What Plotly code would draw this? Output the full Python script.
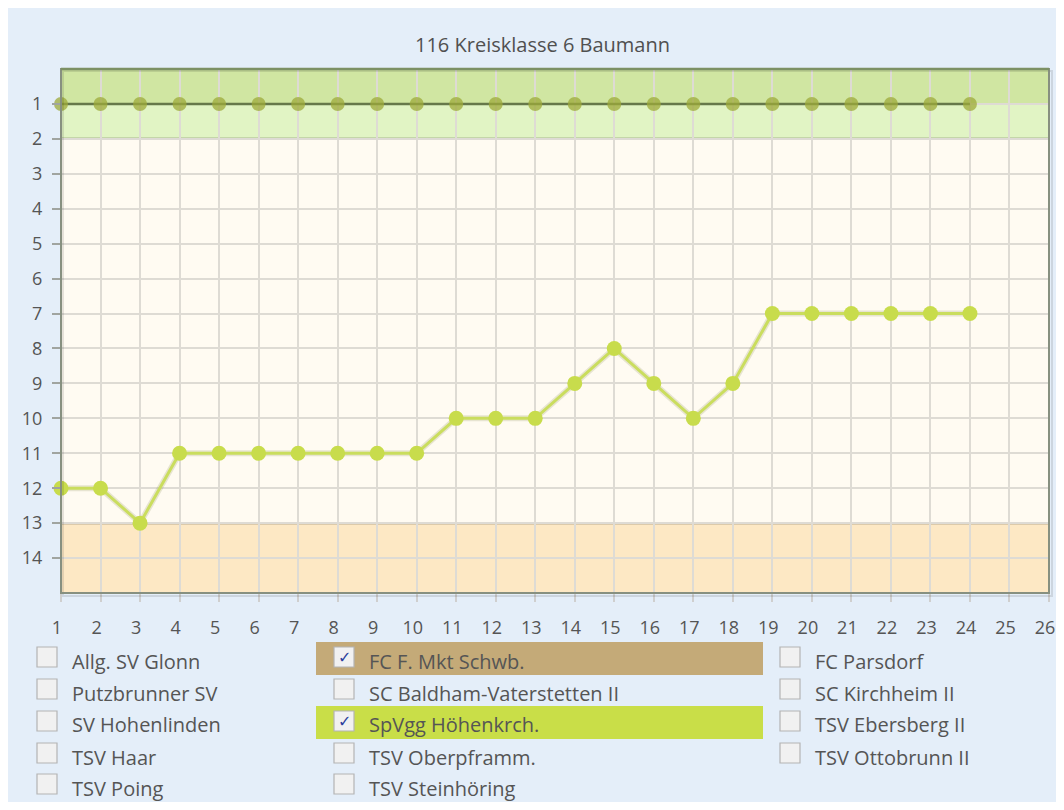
import plotly.graph_objects as go

# ---------------- data ----------------
title_text = "116 Kreisklasse 6 Baumann"
matchdays = [1, 2, 3, 4, 5, 6, 7, 8, 9, 10, 11, 12, 13, 14, 15, 16, 17, 18, 19, 20, 21, 22, 23, 24]
fc_name = "FC F. Mkt Schwb."
fc_rank = [1, 1, 1, 1, 1, 1, 1, 1, 1, 1, 1, 1, 1, 1, 1, 1, 1, 1, 1, 1, 1, 1, 1, 1]
sp_name = "SpVgg Höhenkrch."
sp_rank = [12, 12, 13, 11, 11, 11, 11, 11, 11, 11, 10, 10, 10, 9, 8, 9, 10, 9, 7, 7, 7, 7, 7, 7]

x_ticks = list(range(1, 27))
y_ticks = list(range(1, 15))

legend_col1 = ["Allg. SV Glonn", "Putzbrunner SV", "SV Hohenlinden", "TSV Haar", "TSV Poing"]
legend_col2 = ["FC F. Mkt Schwb.", "SC Baldham-Vaterstetten II", "SpVgg Höhenkrch.", "TSV Oberpframm.", "TSV Steinhöring"]
legend_col3 = ["FC Parsdorf", "SC Kirchheim II", "TSV Ebersberg II", "TSV Ottobrunn II"]
checked_colors = {"FC F. Mkt Schwb.": "#c4aa78", "SpVgg Höhenkrch.": "#c9de48"}

# zones (rank boundaries)
promo_top, promo_mid, promo_bottom = 0, 1, 2
releg_top, releg_bottom = 13, 15

# ---------------- layout helpers (screen pixels -> paper) ----------------
PL, PR, PT, PB = 61, 1049, 69, 593


def px(x):
    return (x - PL) / (PR - PL)


def py(y):
    return (PB - y) / (PB - PT)


FONT = "Open Sans"
TXT = "#555555"

fig = go.Figure()

fig.add_trace(go.Scatter(
    x=matchdays, y=fc_rank, mode="lines+markers", name=fc_name,
    line=dict(color="#66784a", width=2.5),
    marker=dict(size=14, color="rgba(158,170,58,0.75)", line=dict(width=0)),
    cliponaxis=False, showlegend=False))

fig.add_trace(go.Scatter(
    x=matchdays, y=sp_rank, mode="lines",
    line=dict(color="rgba(120,130,60,0.18)", width=6),
    hoverinfo="skip", showlegend=False))

fig.add_trace(go.Scatter(
    x=matchdays, y=sp_rank, mode="lines+markers", name=sp_name,
    line=dict(color="#cadd5e", width=3),
    marker=dict(size=15, color="#c8dc4c", line=dict(width=0)),
    cliponaxis=False, showlegend=False))

shapes = []
# zone bands (below gridlines)
shapes.append(dict(type="rect", xref="paper", yref="y", x0=0, x1=1, y0=promo_top, y1=promo_mid,
                   fillcolor="#d0e6a2", line=dict(width=0), layer="below"))
shapes.append(dict(type="rect", xref="paper", yref="y", x0=0, x1=1, y0=promo_mid, y1=promo_bottom,
                   fillcolor="#e1f4c4", line=dict(width=0), layer="below"))
shapes.append(dict(type="rect", xref="paper", yref="y", x0=0, x1=1, y0=releg_top, y1=releg_bottom,
                   fillcolor="#fde8c4", line=dict(width=0), layer="below"))
# zone boundary lines
shapes.append(dict(type="line", xref="paper", yref="y", x0=0, x1=1, y0=promo_bottom, y1=promo_bottom,
                   line=dict(color="#6f7c58", width=2), layer="between"))
shapes.append(dict(type="line", xref="paper", yref="y", x0=0, x1=1, y0=releg_top, y1=releg_top,
                   line=dict(color="#7e725e", width=2), layer="between"))
# plot border shadow + border
shapes.append(dict(type="rect", xref="paper", yref="paper", x0=px(PL + 2), x1=px(PR + 3), y0=py(PB + 3), y1=py(PT + 2),
                   line=dict(color="rgba(0,0,0,0.10)", width=2), layer="above"))
shapes.append(dict(type="rect", xref="paper", yref="paper", x0=0, x1=1, y0=0, y1=1,
                   line=dict(color="#879080", width=2), layer="above"))
shapes.append(dict(type="line", xref="paper", yref="paper", x0=0, x1=1, y0=1, y1=1,
                   line=dict(color="#7c9064", width=2.5), layer="above"))

annotations = [dict(text=title_text, xref="paper", yref="paper", x=px(542), y=py(44),
                    xanchor="center", yanchor="middle", showarrow=False,
                    font=dict(family=FONT, size=20, color="#505050"))]

# custom checkbox legend
rows_y = [661, 693, 725, 757, 788]
columns = [(legend_col1, 37, 70), (legend_col2, 334, 367), (legend_col3, 780, 813)]
for names, box_x, text_x in columns:
    for i, name in enumerate(names):
        cy = rows_y[i]
        if name in checked_colors:
            shapes.append(dict(type="rect", xref="paper", yref="paper",
                               x0=px(316), x1=px(763), y0=py(cy + 14), y1=py(cy - 19),
                               fillcolor=checked_colors[name], line=dict(width=0), layer="above"))
        shapes.append(dict(type="rect", xref="paper", yref="paper",
                           x0=px(box_x), x1=px(box_x + 20), y0=py(cy + 6), y1=py(cy - 14),
                           fillcolor="#f1f1f1", line=dict(color="#b4b4b4", width=1.2), layer="above"))
        if name in checked_colors:
            annotations.append(dict(text="<b>✓</b>", xref="paper", yref="paper", x=px(box_x + 10), y=py(cy - 4),
                                    xanchor="center", yanchor="middle", showarrow=False,
                                    font=dict(family="DejaVu Sans", size=16, color="#2c3f9c")))
        annotations.append(dict(text=name, xref="paper", yref="paper", x=px(text_x), y=py(cy),
                                xanchor="left", yanchor="middle", showarrow=False,
                                font=dict(family=FONT, size=20, color=TXT)))

fig.update_layout(
    template="none",
    width=1048, height=794,
    margin=dict(l=PL - 8, r=1048 - (PR - 8), t=PT - 8, b=794 - (PB - 8), pad=0, autoexpand=False),
    paper_bgcolor="#e4eef9",
    plot_bgcolor="#fffbf2",
    font=dict(family=FONT, size=18, color=TXT),
    shapes=shapes,
    annotations=annotations,
    hovermode=False,
)

fig.update_xaxes(range=[1, 26], tickmode="array", tickvals=x_ticks, ticktext=[str(v) for v in x_ticks],
                 automargin=False,
                 showgrid=True, gridcolor="#dedbd4", gridwidth=2, zeroline=False, showline=False,
                 ticks="outside", ticklen=8, tickcolor="#cfcfcf", tickwidth=1.5,
                 ticklabelstandoff=10, ticklabelshift=-4, ticklabeloverflow="allow",
                 tickfont=dict(family=FONT, size=18, color=TXT))
fig.update_yaxes(range=[15, 0], tickmode="array", tickvals=y_ticks, ticktext=[str(v) for v in y_ticks],
                 automargin=False,
                 showgrid=True, gridcolor="#dedbd4", gridwidth=2, zeroline=False, showline=False,
                 ticks="outside", ticklen=8, tickcolor="#a0a4a0", tickwidth=1.5,
                 ticklabelstandoff=6, tickfont=dict(family=FONT, size=18, color=TXT))

fig.write_html("out.html")
